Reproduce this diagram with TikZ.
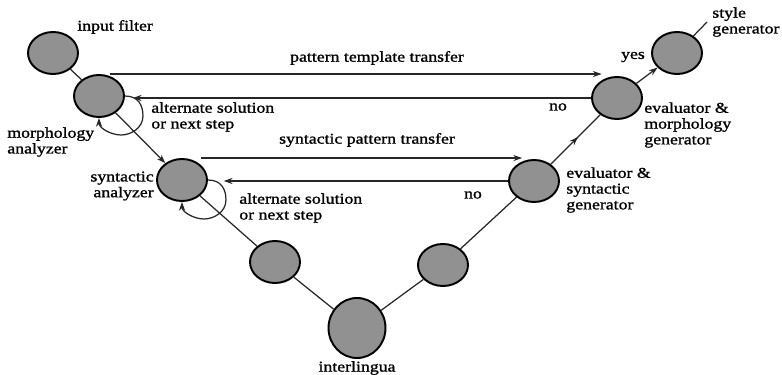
\documentclass[tikz,border=0pt]{standalone}
\usepackage{fontspec}
\setmainfont[FakeStretch=1.19, FakeBold=1.2]{Liberation Serif}
\usepackage{tikz}
\usetikzlibrary{positioning, shapes.geometric, arrows.meta, calc, decorations.markings}

\tikzset{
    stage/.style={ellipse, draw=black, line width=1.1pt, fill=black!43,
        minimum width=1cm, minimum height=0.84cm, inner sep=0pt},
    lbl/.style={font=\rmfamily\fontsize{8.5}{9}\selectfont, inner sep=0pt},
    flow/.style={line width=0.7pt, black!85},
    tip/.style={-{Stealth[length=5pt,width=3.5pt]}},
    midarrow/.style={postaction={decorate}, decoration={markings,
        mark=at position 0.55 with {\arrow{Stealth[length=5pt,width=3.5pt]}}}}
}

\begin{document}
\begin{tikzpicture}[x=0.02cm, y=-0.02cm]
    \useasboundingbox (0,0) rectangle (782,375);

    % Stages down and up the V
    \node[stage] (infilter) at (53,53) {};
    \node[stage] (morph) at (99,96) {};
    \node[stage] (synan) at (182,180) {};
    \node[stage] (lowleft) at (275,262) {};
    \node[stage, minimum width=1.14cm, minimum height=1.2cm] (inter) at (357,328) {};
    \node[stage] (lowright) at (443,265) {};
    \node[stage] (evalsyn) at (534,181) {};
    \node[stage] (evalmorph) at (617,98) {};
    \node[stage] (stylegen) at (677,53) {};
    \coordinate (output) at (707,22);

    % The V itself
    \draw[flow] (infilter) -- (morph);
    \draw[flow, tip] (morph) -- (synan);
    \draw[flow] (synan) -- (lowleft) -- (inter) -- (lowright) -- (evalsyn);
    \draw[flow, midarrow] (evalsyn) -- (evalmorph);
    \draw[flow, tip] (evalmorph) -- (stylegen);
    \draw[flow] (stylegen) -- (output);

    % Transfers across and back
    \draw[flow, tip] ([xshift=6pt]morph.north) -- ([xshift=6pt]morph.north -| evalmorph.west);
    \draw[flow, tip, shorten >=4.5pt] (evalmorph.west) -- (evalmorph.west -| morph.east);
    \draw[flow, tip, shorten >=3pt] ([xshift=11pt]synan.north) -- ([xshift=11pt]synan.north -| evalsyn.west);
    \draw[flow, tip, shorten >=9pt] (evalsyn.west) -- (evalsyn.west -| synan.east);

    % Loops (alternate solution)
    \foreach \st in {morph, synan} {
        \draw[flow, tip] (\st.east) .. controls +(14,0) and +(0,-10) .. ++(18,20)
            .. controls +(0,12) and +(10,0) .. ++(-22,19)
            .. controls +(-10,0) and +(0,10) .. (\st.south);
    }

    % Labels
    \node[lbl, right] (tinfilter) at (77,27) {input filter};
    \node[lbl, right, align=left] (tmorph) at (7,142) {morphology\\analyzer};
    \node[lbl, right, align=left] (talt1) at (151,117) {alternate solution\\or next step};
    \node[lbl, left, align=right] (tsynan) at (154,186) {syntactic\\analyzer};
    \node[lbl, right, align=left] (talt2) at (239,208) {alternate solution\\or next step};
    \node[lbl] (tpattern) at (377,58) {pattern template transfer};
    \node[lbl] (tsyntr) at (367,140) {syntactic pattern transfer};
    \node[lbl] (tno1) at (558,107) {no};
    \node[lbl] (tno2) at (473,195) {no};
    \node[lbl] (tyes) at (633,57) {yes};
    \node[lbl, right, align=left] (tevalmorph) at (644,125) {evaluator \&\\morphology\\generator};
    \node[lbl, right, align=left] (tevalsyn) at (566,190) {evaluator \&\\syntactic\\generator};
    \node[lbl, right, align=left] (tstyle) at (712,22) {style\\generator};
    \node[lbl] (tinter) at (357,368) {interlingua};

\end{tikzpicture}
\end{document}
